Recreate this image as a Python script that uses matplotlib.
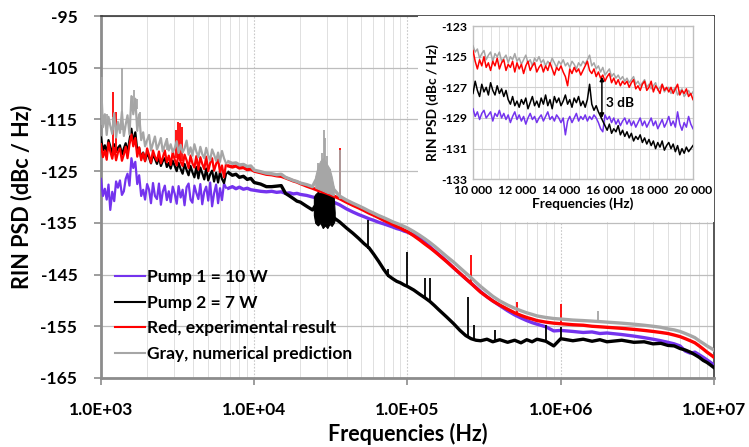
import numpy as np
import matplotlib
matplotlib.use("Agg")
import matplotlib.pyplot as plt
from matplotlib.ticker import FixedLocator, FixedFormatter, MultipleLocator, NullFormatter, LogLocator
from matplotlib.patches import Rectangle
from matplotlib.lines import Line2D

plt.rcParams['font.family'] = ['Lato', 'DejaVu Sans']
plt.rcParams['font.weight'] = 'bold'

# ---------------- data (main plot): low-frequency segment 1 kHz - 6.6 kHz ----------------
lf_freq = [1000, 1030, 1060, 1090, 1120, 1150, 1185, 1220, 1255, 1290,
           1330, 1370, 1410, 1450, 1490, 1535, 1580, 1625, 1675, 1725,
           1775, 1830, 1885, 1940, 2000, 2060, 2120, 2185, 2250, 2320,
           2390, 2460, 2530, 2610, 2690, 2770, 2850, 2940, 3030, 3120,
           3210, 3310, 3410, 3510, 3620, 3730, 3840, 3950, 4070, 4190,
           4320, 4450, 4580, 4720, 4860, 5010, 5160, 5310, 5470, 5640,
           5810, 5980, 6160, 6350, 6550]
lf_pump1 = [-126.5, -129.8, -128.4, -130.5, -127.6, -132.5, -129.0, -130.8, -127.0, -128.2,
            -126.8, -129.6, -128.9, -126.5, -125.5, -127.8, -122.5, -124.4, -123.2, -127.5,
            -125.8, -129.8, -128.6, -130.5, -127.5, -128.6, -131.2, -127.3, -129.8, -130.4,
            -127.4, -131.5, -129.0, -127.8, -130.6, -128.9, -131.0, -128.0, -129.4, -131.3,
            -127.9, -130.1, -128.6, -131.6, -128.1, -127.4, -130.5, -131.1, -127.8, -129.2,
            -130.4, -127.5, -131.4, -129.0, -128.0, -130.7, -127.2, -131.8, -129.3, -127.6,
            -131.2, -128.3, -130.6, -127.4, -128.2]
lf_pump2 = [-118.5, -121.0, -120.0, -121.5, -119.0, -120.2, -121.6, -119.8, -121.3, -120.5,
            -120.0, -121.8, -120.6, -119.6, -121.4, -119.0, -116.8, -119.5, -117.5, -121.0,
            -120.5, -122.5, -121.4, -123.0, -121.5, -122.4, -123.5, -121.8, -122.6, -123.6,
            -122.3, -124.0, -123.1, -122.5, -124.2, -123.4, -124.5, -123.0, -124.0, -125.0,
            -123.4, -124.6, -125.5, -123.6, -124.8, -125.8, -124.0, -125.2, -126.2, -124.2,
            -126.4, -124.3, -125.4, -126.6, -124.5, -126.8, -125.6, -124.9, -127.0, -125.3,
            -127.2, -125.1, -126.5, -127.3, -125.5]
lf_red = [-119.8, -122.3, -121.0, -122.8, -119.5, -121.2, -122.6, -120.5, -122.9, -121.4,
          -120.6, -123.0, -121.8, -120.3, -122.5, -119.8, -117.9, -120.2, -118.6, -122.2,
          -120.4, -122.9, -121.5, -123.1, -120.6, -121.9, -123.4, -121.0, -122.2, -123.0,
          -121.2, -123.5, -122.4, -121.0, -123.3, -122.0, -123.8, -121.3, -122.8, -123.9,
          -121.5, -123.2, -124.0, -121.8, -122.9, -124.4, -122.0, -123.5, -124.3, -122.1,
          -124.7, -122.3, -123.6, -124.6, -122.2, -125.0, -123.4, -122.5, -124.9, -123.6,
          -122.7, -125.2, -123.9, -126.2, -123.5]
lf_gray = [-107.5, -116.5, -114.0, -118.0, -114.5, -116.2, -117.8, -113.8, -118.5, -115.5,
           -117.6, -113.5, -118.2, -116.0, -114.2, -117.9, -110.5, -114.0, -111.0, -117.2,
           -114.0, -119.0, -117.5, -120.2, -119.0, -118.0, -121.0, -119.6, -118.3, -120.8,
           -119.8, -118.6, -121.2, -120.0, -118.8, -121.0, -119.8, -121.3, -120.5, -119.2,
           -121.5, -119.9, -121.4, -120.6, -119.1, -121.8, -120.4, -122.0, -119.8, -121.2,
           -122.3, -120.3, -121.7, -122.5, -120.5, -122.0, -122.9, -120.8, -121.8, -123.0,
           -121.4, -123.2, -121.1, -122.5, -123.5]

# ---------------- data (main plot): 6.8 kHz - 10 MHz ----------------
freq = [6800, 7200, 7600, 8000, 8500,
        9000, 9500, 10000, 11000, 12000, 13000, 14000, 15000, 16000, 17000,
        18000, 19000, 20000, 22000, 24000, 26000, 28000, 30000, 33000, 36000,
        40000, 44000, 48000, 52000, 56000, 60000, 65000, 70000, 75000, 80000,
        85000, 90000, 95000, 1.0e5, 1.1e5, 1.2e5, 1.3e5, 1.4e5, 1.5e5, 1.6e5,
        1.8e5, 2.0e5, 2.2e5, 2.4e5, 2.6e5, 2.8e5, 3.0e5, 3.3e5, 3.6e5, 4.0e5,
        4.5e5, 5.0e5, 5.5e5, 6.0e5, 6.5e5, 7.0e5, 8.0e5, 9.0e5, 1.0e6, 1.2e6,
        1.4e6, 1.6e6, 1.8e6, 2.0e6, 2.5e6, 3.0e6, 3.5e6, 4.0e6, 4.5e6, 5.0e6,
        5.5e6, 6.0e6, 6.5e6, 7.0e6, 7.5e6, 8.0e6, 8.5e6, 9.0e6, 9.5e6, 1.0e7]

pump1 = [-128.3, -128.0, -128.4, -128.1, -128.5,
         -128.3, -128.6, -128.7, -128.9, -129.0, -128.9, -129.1, -129.0, -129.3, -129.2,
         -129.4, -129.3, -129.5, -129.7, -130.0, -130.2, -130.3, -130.6, -131.0, -131.5,
         -132.3, -132.9, -133.4, -133.8, -134.2, -134.5, -134.9, -135.2, -135.5, -135.8,
         -136.1, -136.3, -136.6, -136.8, -137.3, -138.0, -138.8, -139.6, -140.4, -141.1,
         -142.4, -143.7, -144.8, -145.8, -146.7, -147.5, -148.3, -149.3, -150.1, -151.0,
         -152.0, -152.8, -153.4, -153.9, -154.3, -154.6, -155.1, -155.9, -155.8, -156.0,
         -156.2, -156.1, -156.4, -156.3, -156.6, -156.9, -157.2, -157.5, -157.8, -158.1,
         -158.4, -158.8, -159.8, -160.2, -160.0, -160.5, -161.0, -161.5, -162.0, -162.5]

pump2 = [-125.3, -125.8, -125.6, -126.2, -126.0,
         -126.6, -126.4, -127.2, -127.5, -128.0, -128.0, -127.9, -127.8, -129.3, -129.8,
         -130.3, -130.8, -131.0, -131.8, -132.5, -131.0, -134.5, -130.5, -134.0, -134.8,
         -136.0, -137.0, -138.0, -139.0, -139.8, -141.0, -142.5, -144.0, -145.2, -145.8,
         -146.3, -146.6, -147.0, -147.3, -148.0, -148.8, -149.5, -150.2, -151.0, -151.8,
         -153.2, -154.5, -155.8, -156.8, -157.4, -157.7, -157.8, -157.5, -158.0, -157.6,
         -158.1, -157.7, -158.2, -157.6, -158.0, -157.5, -157.9, -158.8, -157.4, -157.8,
         -157.5, -157.9, -157.6, -158.0, -157.7, -158.1, -158.0, -158.4, -158.3, -158.7,
         -158.8, -159.3, -159.6, -160.0, -160.5, -161.0, -161.6, -162.0, -162.5, -163.0]

red_exp = [-124.0, -124.2, -124.0, -124.4, -124.3,
           -124.7, -124.6, -125.0, -125.3, -125.6, -125.7, -125.9, -126.0, -126.3, -126.6,
           -126.9, -127.1, -127.4, -127.9, -128.3, -128.7, -129.0, -129.3, -129.8, -130.3,
           -131.0, -131.6, -132.1, -132.6, -133.1, -133.5, -134.0, -134.5, -134.9, -135.3,
           -135.7, -136.0, -136.4, -136.7, -137.5, -138.3, -139.1, -139.8, -140.5, -141.2,
           -142.5, -143.7, -144.8, -145.8, -146.7, -147.6, -148.4, -149.3, -150.1, -150.9,
           -151.7, -152.4, -152.9, -153.3, -153.6, -153.9, -154.2, -154.4, -154.5, -154.7,
           -154.8, -155.0, -155.1, -155.2, -155.4, -155.6, -155.8, -156.0, -156.2, -156.4,
           -156.7, -157.0, -157.4, -157.8, -158.2, -158.8, -159.4, -160.0, -160.5, -161.0]

gray_num = [-123.2, -123.5, -123.4, -123.8, -123.7,
            -124.1, -124.0, -124.8, -125.1, -125.4, -125.5, -125.7, -125.6, -126.2, -126.5,
            -126.8, -127.0, -127.3, -127.6, -128.0, -126.0, -124.0, -125.5, -128.5, -129.8,
            -130.6, -131.2, -131.7, -132.2, -132.7, -133.1, -133.6, -134.0, -134.4, -134.8,
            -135.1, -135.4, -135.7, -136.0, -136.7, -137.4, -138.1, -138.8, -139.5, -140.2,
            -141.5, -142.6, -143.7, -144.7, -145.6, -146.5, -147.3, -148.3, -149.2, -150.1,
            -150.9, -151.5, -152.0, -152.4, -152.7, -153.0, -153.3, -153.5, -153.6, -153.8,
            -153.9, -154.0, -154.1, -154.2, -154.4, -154.6, -154.8, -155.0, -155.2, -155.5,
            -155.7, -156.0, -156.4, -156.8, -157.2, -157.8, -158.3, -158.8, -159.2, -159.6]

# narrow spectral spikes: frequency, base level, peak level
gray_spike_f = [1010, 1100, 1200, 1370, 1600, 1650, 1720, 1800, 2700,
                26000, 27500, 28500, 29000, 30000, 31000, 36500, 1.76e6]
gray_spike_lo = [-116, -116.5, -117, -117, -113, -113, -113, -116, -121,
                 -127, -127, -127, -127, -127, -127, -130.3, -154.2]
gray_spike_hi = [-106.8, -114, -114.5, -105, -110.5, -109.3, -111, -113.5, -118.6,
                 -123.5, -121.5, -117, -118.5, -122, -124.5, -121, -152]

red_spike_f = [1200, 1250, 3100, 3200, 3300, 3380, 36500, 2.6e5, 5.2e5, 1.0e6]
red_spike_lo = [-121.5, -121.5, -122.5, -122.5, -123, -123, -130.5, -147, -152.6, -154.5]
red_spike_hi = [-109.7, -113.6, -117, -115.5, -115.7, -116.5, -120.5, -141.3, -150.4, -150.6]

black_spike_f = [55000, 75000, 1.0e5, 1.3e5, 1.4e5, 2.5e5, 2.7e5, 3.7e5, 8.0e5, 1.0e6]
black_spike_lo = [-140, -145.5, -147.3, -149.5, -150.2, -157.2, -157.7, -158, -158, -157.5]
black_spike_hi = [-134.5, -144, -140.7, -145.7, -145.7, -149.3, -154.8, -155.8, -154.8, -155.2]

# broadband bursts around 30 kHz
black_burst_f = [24500, 25000, 26000, 27000, 28000, 29000, 30000, 31000, 32000, 33000, 33500]
black_burst_lo = [-133.5, -135.0, -135.5, -135.0, -136.0, -135.5, -136.0, -135.2, -135.6, -135.0, -134.5]
black_burst_hi = [-130.0, -129.5, -129.0, -129.3, -128.8, -129.2, -129.0, -129.4, -129.6, -130.0, -133.0]

gray_burst_f = [25000, 26000, 27000, 28000, 29000, 30000, 31000, 32000, 33000]
gray_burst_lo = [-128.2, -128.4, -128.6, -128.8, -129.0, -129.2, -129.3, -129.5, -129.7]
gray_burst_hi = [-126.0, -124.0, -123.0, -122.5, -123.0, -123.8, -124.5, -126.0, -128.0]

main_xticks = [1e3, 1e4, 1e5, 1e6, 1e7]
main_xticklabels = ["1.0E+03", "1.0E+04", "1.0E+05", "1.0E+06", "1.0E+07"]
main_yticks = [-165, -155, -145, -135, -125, -115, -105, -95]

legend_labels = ["Pump 1 = 10 W", "Pump 2 = 7 W", "Red, experimental result", "Gray, numerical prediction"]

# ---------------- data (inset) ----------------
inset_freq = list(range(10000, 20001, 100))
inset_gray = [-124.3, -124.7, -124.5, -125.1, -124.8, -124.6, -125.2, -124.9, -124.7, -125.3,
              -124.8, -125.0, -124.7, -125.3, -125.1, -124.9, -125.4, -125.0, -125.2, -124.8,
              -125.3, -125.1, -125.5, -125.2, -124.9, -125.4, -125.2, -125.6, -125.1, -125.3,
              -125.0, -125.4, -125.2, -125.6, -125.3, -125.5, -125.1, -125.4, -125.7, -125.3,
              -125.5, -125.2, -125.6, -125.4, -125.7, -125.3, -125.5, -125.8, -125.4, -125.6,
              -125.3, -125.5, -125.2, -124.9, -125.6, -125.4, -125.8, -125.6, -126.0, -125.7,
              -126.2, -126.0, -125.8, -126.3, -126.1, -126.4, -126.2, -126.5, -126.3, -126.6,
              -126.4, -126.7, -126.5, -126.3, -126.8, -126.6, -126.9, -126.7, -126.5, -127.0,
              -126.8, -127.1, -126.9, -126.7, -127.2, -127.0, -126.8, -127.3, -127.1, -127.0,
              -127.4, -127.2, -127.0, -127.5, -127.3, -127.1, -127.6, -127.4, -127.2, -127.5,
              -127.3]
inset_red = [-124.6, -125.3, -125.8, -125.2, -125.6, -125.0, -125.7, -125.4, -125.9, -125.3,
             -125.6, -125.1, -125.8, -125.4, -125.2, -125.9, -125.5, -125.7, -125.3, -126.0,
             -125.4, -125.8, -125.5, -126.1, -125.6, -125.3, -125.9, -125.6, -125.4, -126.0,
             -125.7, -125.5, -126.0, -125.6, -125.9, -125.4, -125.8, -126.2, -125.7, -125.9,
             -125.6, -126.0, -126.3, -126.9, -125.8, -126.1, -125.7, -126.0, -125.8, -126.2,
             -125.9, -125.6, -125.3, -125.9, -126.1, -125.8, -126.3, -126.0, -126.4, -126.2,
             -126.6, -126.3, -126.1, -126.7, -126.4, -126.8, -126.5, -126.9, -126.6, -126.8,
             -126.6, -127.0, -126.7, -126.5, -127.1, -126.9, -127.2, -126.8, -126.6, -127.2,
             -127.0, -126.6, -127.3, -126.9, -127.1, -127.4, -126.8, -127.2, -127.0, -127.3,
             -127.0, -127.4, -127.1, -126.8, -127.5, -127.2, -127.4, -127.1, -127.6, -127.4,
             -127.8]
inset_pump2 = [-127.4, -126.6, -127.2, -127.6, -126.8, -127.3, -127.0, -127.5, -126.7, -127.2,
               -127.5, -126.9, -127.4, -127.1, -127.6, -127.2, -127.8, -128.1, -127.6, -128.2,
               -127.9, -128.3, -127.8, -128.1, -127.7, -128.4, -128.0, -127.6, -128.2, -127.9,
               -128.3, -127.7, -128.1, -127.5, -128.2, -127.8, -128.4, -127.6, -128.0, -127.7,
               -128.2, -127.9, -127.5, -128.1, -127.8, -128.3, -127.7, -128.0, -127.6, -128.2,
               -127.9, -128.3, -127.8, -126.8, -128.1, -128.5, -128.2, -128.6, -128.9, -129.2,
               -129.5, -129.8, -129.4, -130.0, -129.7, -129.9, -129.5, -130.1, -129.8, -130.2,
               -129.9, -130.3, -130.0, -130.5, -130.2, -130.4, -130.1, -130.6, -130.3, -130.7,
               -130.4, -130.8, -130.5, -131.0, -130.6, -130.9, -130.5, -131.1, -130.8, -130.6,
               -131.0, -130.7, -131.2, -130.8, -131.4, -131.0, -131.3, -130.9, -131.2, -131.0,
               -130.8]
inset_pump1 = [-128.4, -128.9, -128.6, -129.1, -128.7, -128.5, -129.0, -128.8, -128.6, -129.2,
               -128.7, -128.9, -128.5, -129.0, -128.7, -129.1, -128.8, -129.3, -128.9, -128.6,
               -129.1, -128.8, -129.2, -128.9, -129.4, -129.0, -128.7, -129.1, -128.9, -129.3,
               -129.0, -128.8, -129.2, -128.9, -128.6, -129.1, -128.9, -129.2, -128.8, -129.0,
               -129.3, -129.0, -130.1, -129.2, -128.9, -129.3, -129.0, -128.7, -129.2, -128.9,
               -129.1, -128.8, -129.2, -128.9, -129.1, -128.8, -129.0, -129.3, -129.7, -129.9,
               -128.8, -129.1, -128.9, -129.3, -129.0, -129.4, -129.1, -129.5, -129.2, -129.0,
               -129.4, -129.1, -129.5, -129.2, -129.6, -129.3, -129.0, -129.5, -129.2, -129.6,
               -129.3, -129.0, -129.5, -129.2, -129.7, -129.4, -129.1, -129.6, -129.3, -128.9,
               -129.5, -129.2, -129.6, -128.6, -129.4, -129.8, -129.3, -129.6, -128.9, -129.4,
               -129.7]
inset_xticks = [10000, 12000, 14000, 16000, 18000, 20000]
inset_xticklabels = ["10 000", "12 000", "14 000", "16 000", "18 000", "20 000"]
inset_yticks = [-133, -131, -129, -127, -125, -123]
arrow_f = 15860
arrow_lo, arrow_hi = -129.0, -126.3

# ---------------- style ----------------
PURPLE = '#7433EE'
BLACK = '#000000'
RED = '#FF0000'
GRAY = '#A6A6A6'

fig = plt.figure(figsize=(7.49, 4.47), dpi=100)
ax = fig.add_axes([0.1348, 0.1544, 0.8185, 0.8098])

lw = 2.4
lwn = 1.6
ax.plot(lf_freq, lf_pump1, color=PURPLE, lw=lwn, zorder=3)
ax.plot(freq, pump1, color=PURPLE, lw=lw, zorder=3)
ax.plot(lf_freq, lf_pump2, color=BLACK, lw=lwn, zorder=4)
ax.plot(freq, pump2, color=BLACK, lw=lw, zorder=4)
ax.fill_between(black_burst_f, black_burst_lo, black_burst_hi, color=BLACK, lw=0.8, zorder=4)
ax.vlines(black_spike_f, black_spike_lo, black_spike_hi, color=BLACK, lw=1.3, zorder=4)
ax.plot(lf_freq, lf_red, color=RED, lw=lwn, zorder=5)
ax.plot(freq, red_exp, color=RED, lw=lw, zorder=5)
ax.vlines(red_spike_f, red_spike_lo, red_spike_hi, color=RED, lw=1.3, zorder=5)
ax.plot(lf_freq, lf_gray, color=GRAY, lw=lwn, zorder=6)
ax.plot(freq, gray_num, color=GRAY, lw=lw, zorder=6)
ax.fill_between(gray_burst_f, gray_burst_lo, gray_burst_hi, color=GRAY, lw=0.8, zorder=6)
ax.vlines(gray_spike_f, gray_spike_lo, gray_spike_hi, color=GRAY, lw=1.3, zorder=6)

ax.set_xscale('log')
ax.set_xlim(1e3, 1e7)
ax.set_ylim(-165, -95)
ax.xaxis.set_major_locator(FixedLocator(main_xticks))
ax.xaxis.set_major_formatter(FixedFormatter(main_xticklabels))
ax.xaxis.set_minor_locator(LogLocator(base=10, subs=[2, 3, 4, 5, 6, 7, 8, 9]))
ax.xaxis.set_minor_formatter(NullFormatter())
ax.yaxis.set_major_locator(FixedLocator(main_yticks))
ax.yaxis.set_major_formatter(FixedFormatter([str(v) for v in main_yticks]))

ax.grid(axis='y', which='major', color='#BDBDBD', lw=0.9, zorder=0)
ax.grid(axis='x', which='minor', color='#E0E0E0', lw=0.7, zorder=0)
ax.grid(axis='x', which='major', color='#C8C8C8', lw=0.8, ls=(0, (1.5, 1.5)), zorder=0)
ax.set_axisbelow(True)

for s in ['left', 'bottom']:
    ax.spines[s].set_color('#8C8C8C')
    ax.spines[s].set_linewidth(2.0)
for s in ['top', 'right']:
    ax.spines[s].set_color('#3A3A3A')
    ax.spines[s].set_linewidth(1.2)

ax.tick_params(axis='both', which='major', length=5, width=1.2, color='#8C8C8C',
               labelsize=12.5, pad=12)
ax.tick_params(axis='x', which='minor', length=0)
for t in ax.get_xticklabels() + ax.get_yticklabels():
    t.set_fontweight('bold')

ax.set_xlabel('Frequencies (Hz)', fontsize=15.5, fontweight='bold', labelpad=4)
ax.set_ylabel('RIN PSD (dBc / Hz)', fontsize=15.5, fontweight='bold', labelpad=6)

handles = [Line2D([], [], color=c, lw=1.5) for c in [PURPLE, BLACK, RED, GRAY]]
leg = ax.legend(handles, legend_labels, loc='lower left', bbox_to_anchor=(0.012, 0.025),
                frameon=False, prop={'weight': 'bold', 'size': 12.5},
                handlelength=1.7, handletextpad=0.15, labelspacing=0.55, borderaxespad=0)
leg.set_zorder(10)

# white panel behind inset
fig.patches.append(Rectangle((0.558, 0.5034), 0.395, 0.4606, transform=fig.transFigure,
                             facecolor='white', edgecolor='none', zorder=1))

ax2 = fig.add_axes([0.6315, 0.5989, 0.2937, 0.3429], zorder=2)
ax2.plot(inset_freq, inset_pump1, color=PURPLE, lw=1.1, zorder=3)
ax2.plot(inset_freq, inset_pump2, color=BLACK, lw=1.1, zorder=4)
ax2.plot(inset_freq, inset_gray, color=GRAY, lw=1.1, zorder=5)
ax2.plot(inset_freq, inset_red, color=RED, lw=1.1, zorder=5)
ax2.set_xlim(10000, 20000)
ax2.set_ylim(-133, -123)
ax2.xaxis.set_major_locator(FixedLocator(inset_xticks))
ax2.xaxis.set_major_formatter(FixedFormatter(inset_xticklabels))
ax2.xaxis.set_minor_locator(MultipleLocator(400))
ax2.yaxis.set_major_locator(FixedLocator(inset_yticks))
ax2.yaxis.set_major_formatter(FixedFormatter([str(v) for v in inset_yticks]))
ax2.grid(axis='x', which='both', color='#E0E0E0', lw=0.7)
ax2.grid(axis='y', which='major', color='#D0D0D0', lw=0.8)
ax2.set_axisbelow(True)
for s in ax2.spines.values():
    s.set_color('#C0C0C0')
    s.set_linewidth(1.0)
ax2.tick_params(axis='both', which='both', length=0, labelsize=8.8, pad=4)
for t in ax2.get_xticklabels() + ax2.get_yticklabels():
    t.set_fontweight('bold')
ax2.set_xlabel('Frequencies (Hz)', fontsize=9.8, fontweight='bold', labelpad=1)
ax2.set_ylabel('RIN PSD (dBc / Hz)', fontsize=9.8, fontweight='bold', labelpad=2)

ax2.annotate('', xy=(arrow_f, arrow_hi), xytext=(arrow_f, arrow_lo),
             arrowprops=dict(arrowstyle='<|-|>', color='black', lw=1.1,
                             mutation_scale=6, shrinkA=0, shrinkB=0), zorder=7)
ax2.text(arrow_f + 180, (arrow_hi + arrow_lo) / 2 - 0.35, '3 dB', fontsize=9.8,
         fontweight='bold', va='center', ha='left', zorder=7)

fig.savefig('out.png', dpi=100)
